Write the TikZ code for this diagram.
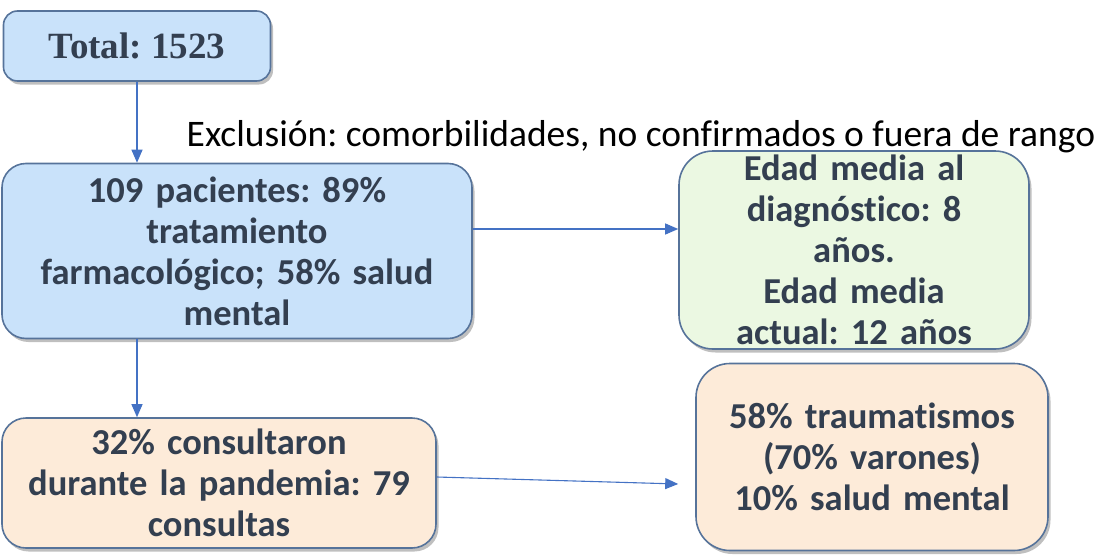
\documentclass[tikz,border=0pt]{standalone}
\usepackage{fontspec}
\setmainfont[Ligatures=NoCommon]{Carlito}
\newfontfamily\timesf{Liberation Serif}
\usetikzlibrary{arrows.meta,shadows,calc}
\definecolor{txt}{HTML}{333F50}
\definecolor{bluefill}{HTML}{C9E2FA}
\definecolor{greenfill}{HTML}{EBF8E2}
\definecolor{peachfill}{HTML}{FDEBD9}
\definecolor{edge}{HTML}{56739A}
\definecolor{arr}{HTML}{4472C4}
\tikzset{
  box/.style={draw=edge, line width=1.6pt, rounded corners=24pt, align=center,
    text=txt, font=\bfseries\fontsize{36.5}{41}\selectfont, inner sep=0pt,
    drop shadow={opacity=0.5, shadow xshift=2.5pt, shadow yshift=-3.5pt}},
  conn/.style={draw=arr, line width=1.1pt, -{Triangle[length=13pt,width=11pt]}}
}
\begin{document}
\frenchspacing
\begin{tikzpicture}[x=1pt,y=1pt]
\useasboundingbox (0,0) rectangle (1099,-554);
\node[box, fill=bluefill, rounded corners=14pt, minimum width=267pt, minimum height=70pt,
  font=\timesf\bfseries\fontsize{37}{40}\selectfont] (total) at (137,-46) {Total: 1523};
\node[box, fill=bluefill, minimum width=470pt, minimum height=175pt, text width=460pt] (pac) at (237,-251)
  {109 pacientes: 89\%\\ tratamiento\\ farmacológico; 58\% salud\\ mental};
\node[box, fill=greenfill, rounded corners=34pt, minimum width=350pt, minimum height=198pt, text width=340pt] (edad) at (854,-250)
  {Edad media al\\ diagnóstico: 8\\ años.\\ Edad media\\ actual: 12 años};
\node[box, fill=peachfill, minimum width=434pt, minimum height=130pt, text width=424pt] (cons) at (219,-483)
  {32\% consultaron\\ durante la pandemia: 79\\ consultas};
\node[box, fill=peachfill, rounded corners=34pt, minimum width=352pt, minimum height=187pt, text width=340pt] (trau) at (872,-457)
  {\raisebox{-6pt}{\parbox{340pt}{\centering 58\% traumatismos\\ (70\% varones)\\ 10\% salud mental}}};
\node[text=black, font=\fontsize{37.5}{40}\selectfont, inner sep=0pt] (excl) at (641,-137)
  {Exclusión: comorbilidades, no confirmados o fuera de rango};
\draw[conn] (total.south) -- (total.south |- pac.north);
\draw[conn] (pac.south -| total.south) -- (total.south |- cons.north);
\draw[conn] ([yshift=22pt]pac.east) -- ([yshift=21pt]edad.west);
\coordinate (tip) at ([xshift=-17pt,yshift=-27pt]trau.west);
\draw[conn] ([yshift=6pt]cons.east) -- (tip);
\end{tikzpicture}
\end{document}
